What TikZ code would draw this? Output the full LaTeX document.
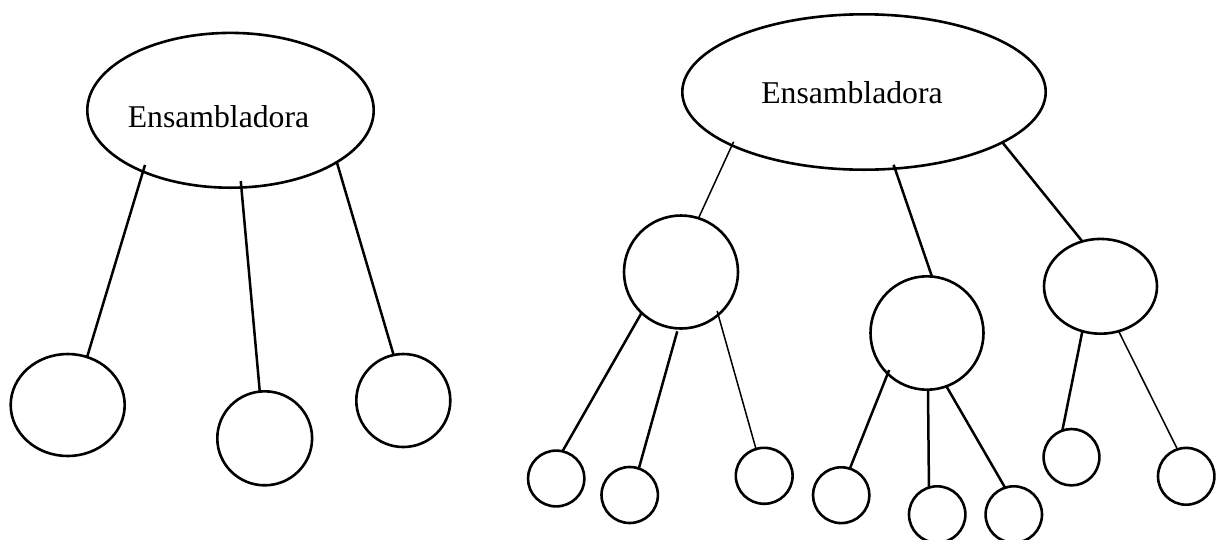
\documentclass[tikz,border=0pt]{standalone}
\usepackage{fontspec}
\setmainfont{Liberation Serif}
\usetikzlibrary{shapes.geometric}
\begin{document}
\begin{tikzpicture}[x=1pt,y=-1pt,
  blob/.style 2 args={ellipse, draw, line width=2.6pt, inner sep=0pt, outer sep=0pt,
                      minimum width=#1pt, minimum height=#2pt},
  link/.style={line width=2.5pt},
  hair/.style={line width=1.5pt},
  poke/.style={shorten <=-#1pt},
  title/.style={font=\fontsize{31.7}{38}\selectfont, inner sep=0pt}]
\useasboundingbox (0,0) rectangle (1220,539);

% left tree
\node[blob={286.4}{154.8}, label={[title, xshift=-12pt, yshift=-6pt]center:Ensambladora}] (E1) at (230.5,110.3) {};
\node[blob={114}{102}]   (L1) at (67.7,405) {};
\node[blob={94.8}{94}]   (L2) at (264.7,438.3) {};
\node[blob={94}{93}]     (L3) at (403.3,400.5) {};

\draw[link, poke=7]   (E1.215.1) -- (L1.68.6);
\draw[link, poke=6.5] (E1.-82.3) -- (L2.96.7);
\draw[link, poke=1]   (E1.-26.7) -- (L3.102);

% right tree
\node[blob={363.4}{155.4}, label={[title, xshift=-12pt, yshift=-1pt]center:Ensambladora}] (E2) at (864,92) {};
\node[blob={114}{113}]   (M1) at (681,272) {};
\node[blob={113}{113.4}] (M2) at (927,333) {};
\node[blob={113}{94.8}]  (M3) at (1100.5,286.3) {};

\node[blob={56.4}{55.8}] (S1) at (556.2,478.5) {};
\node[blob={56.4}{56}]   (S2) at (629.7,495) {};
\node[blob={56.8}{56}]   (S3) at (764.2,475.8) {};
\node[blob={56.4}{55.8}] (S4) at (841.2,495.2) {};
\node[blob={56.4}{56.4}] (S5) at (937.2,514.5) {};
\node[blob={56.4}{56.4}] (S6) at (1013.8,514.5) {};
\node[blob={55.8}{56.4}] (S7) at (1071.5,457.2) {};
\node[blob={56.4}{56.8}] (S8) at (1186.2,476.3) {};

\draw[hair, poke=4] (E2.202.9) -- (M1.72.8);
\draw[link, poke=4] (E2.-68.4) -- (M2.85.7);
\draw[link]         (E2.-20.4) -- (M3.112.1);

\draw[link]                (M1.-134.8) -- (S1.77.9);
\draw[link, shorten <=3pt] (M1.-93.1)  -- (S2.71.7);
\draw[hair, poke=4]        (M1.-49.7)  -- (S3.107.9);

\draw[link, poke=4] (M2.-134.3) -- (S4.72);
\draw[link]         (M2.-89.3)  -- (S5.107.8);
\draw[link]         (M2.-70.7)  -- (S6.108.4);

\draw[link] (M3.-112.5) -- (S7.109.4);
\draw[hair] (M3.-68.2)  -- (S8.108.7);
\end{tikzpicture}
\end{document}
